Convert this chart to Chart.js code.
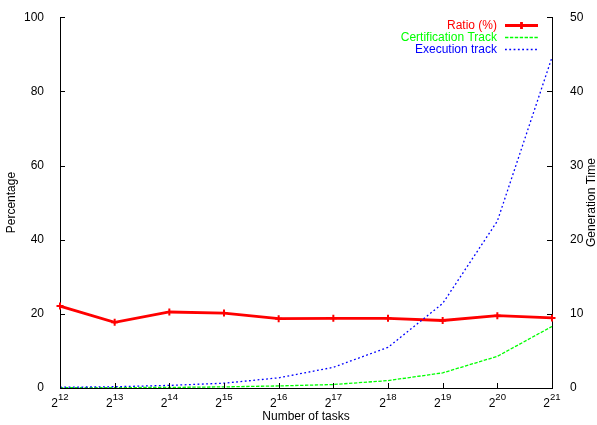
<!DOCTYPE html>
<html>
<head>
<meta charset="utf-8">
<script src="https://cdn.jsdelivr.net/npm/chart.js@4/dist/chart.umd.min.js"></script>
<style>
  html, body { margin: 0; padding: 0; background: #ffffff; }
  #wrap { width: 597px; height: 425px; }
</style>
</head>
<body>
<div id="wrap"><canvas id="c" width="597" height="425"></canvas></div>
<script>
// Number of tasks = 2^exponent
const exponents = [12, 13, 14, 15, 16, 17, 18, 19, 20, 21];
// Ratio (%) on the left axis
const ratioPct = [22.1, 17.7, 20.5, 20.2, 18.7, 18.8, 18.8, 18.2, 19.5, 18.9];
// Generation time on the right axis
const certTime = [0.03, 0.05, 0.08, 0.15, 0.28, 0.47, 1.0, 2.04, 4.27, 8.3];
const execTime = [0.1, 0.17, 0.35, 0.65, 1.37, 2.79, 5.48, 11.4, 22.5, 44.6];
// Axis ranges and steps
const leftRange = [0, 100, 20];
const rightRange = [0, 50, 10];

const FONT = '"Liberation Sans", Arial, Helvetica, sans-serif';
const RED = '#ff0000', GREEN = '#00ff00', BLUE = '#0000ff';

// Inward tick marks, superscript x labels, rotated titles and a gnuplot-style key
const decorations = {
  id: 'decorations',
  afterDraw(chart) {
    const ctx = chart.ctx;
    const area = chart.chartArea;
    const x = chart.scales.x, yl = chart.scales.y, yr = chart.scales.y2;
    const TL = 5;
    ctx.save();
    ctx.strokeStyle = '#000';
    ctx.lineWidth = 1;
    ctx.beginPath();
    yl.ticks.forEach(t => {
      const p = Math.round(yl.getPixelForValue(t.value)) + 0.5;
      ctx.moveTo(area.left, p); ctx.lineTo(area.left + TL, p);
    });
    yr.ticks.forEach(t => {
      const p = Math.round(yr.getPixelForValue(t.value)) + 0.5;
      ctx.moveTo(area.right, p); ctx.lineTo(area.right - TL, p);
    });
    exponents.forEach((e, i) => {
      const p = Math.round(x.getPixelForValue(i)) + 0.5;
      ctx.moveTo(p, area.bottom); ctx.lineTo(p, area.bottom - TL);
    });
    ctx.stroke();

    // x tick labels: 2 with superscript exponent
    ctx.fillStyle = '#000';
    ctx.textBaseline = 'alphabetic';
    ctx.textAlign = 'left';
    const baseFont = '12px ' + FONT, supFont = '9.6px ' + FONT;
    exponents.forEach((e, i) => {
      const p = x.getPixelForValue(i);
      ctx.font = baseFont;
      const wb = ctx.measureText('2').width;
      ctx.font = supFont;
      const ws = ctx.measureText(String(e)).width;
      const start = p - (wb + ws) / 2;
      ctx.font = baseFont;
      ctx.fillText('2', start, 407);
      ctx.font = supFont;
      ctx.fillText(String(e), start + wb, 399.5);
    });

    // axis titles
    ctx.font = '12px ' + FONT;
    ctx.textAlign = 'center';
    ctx.textBaseline = 'alphabetic';
    ctx.fillText('Number of tasks', (area.left + area.right) / 2, 419.5);
    const midY = (area.top + area.bottom) / 2;
    ctx.textBaseline = 'middle';
    ctx.save();
    ctx.translate(12, midY);
    ctx.rotate(-Math.PI / 2);
    ctx.fillText('Percentage', 0, 0);
    ctx.restore();
    ctx.save();
    ctx.translate(592, midY);
    ctx.rotate(-Math.PI / 2);
    ctx.fillText('Generation Time', 0, 0);
    ctx.restore();

    // key
    const textRight = 497, s0 = 505, s1 = 538;
    const rows = [25, 37, 49];
    ctx.textAlign = 'right';
    ctx.textBaseline = 'middle';
    chart.data.datasets.forEach((ds, i) => {
      const y = rows[i];
      ctx.fillStyle = ds.borderColor;
      ctx.fillText(ds.label, textRight, y + 0.5);
      ctx.save();
      ctx.strokeStyle = ds.borderColor;
      ctx.lineWidth = ds.borderWidth;
      ctx.setLineDash(ds.borderDash || []);
      ctx.beginPath();
      ctx.moveTo(s0, y + 0.5); ctx.lineTo(s1, y + 0.5);
      ctx.stroke();
      if (ds.pointRadius > 0) {
        ctx.setLineDash([]);
        Chart.helpers.drawPoint(ctx, {
          pointStyle: ds.pointStyle, radius: ds.pointRadius,
          borderWidth: ds.pointBorderWidth, rotation: 0
        }, (s0 + s1) / 2, y + 0.5);
      }
      ctx.restore();
    });
    ctx.restore();
  }
};

new Chart(document.getElementById('c'), {
  type: 'line',
  data: {
    labels: exponents.map(e => '2^' + e),
    datasets: [
      {
        label: 'Ratio (%)', data: ratioPct, yAxisID: 'y', order: 2,
        borderColor: RED, backgroundColor: RED, borderWidth: 2.8,
        pointStyle: 'cross', pointRadius: 3.5, pointBorderWidth: 2,
        pointBorderColor: RED, tension: 0, fill: false
      },
      {
        label: 'Certification Track', data: certTime, yAxisID: 'y2', order: 1,
        borderColor: GREEN, backgroundColor: GREEN, borderWidth: 1.3,
        borderDash: [3.4, 1.5], pointRadius: 0, tension: 0, fill: false
      },
      {
        label: 'Execution track', data: execTime, yAxisID: 'y2', order: 0,
        borderColor: BLUE, backgroundColor: BLUE, borderWidth: 1.3,
        borderDash: [1.8, 2.5], pointRadius: 0, tension: 0, fill: false
      }
    ]
  },
  options: {
    responsive: false,
    animation: false,
    devicePixelRatio: 1,
    layout: { padding: { top: 15, left: 0, right: 0, bottom: 0 } },
    plugins: { legend: { display: false }, tooltip: { enabled: false } },
    scales: {
      x: {
        type: 'category', offset: false,
        grid: { display: false },
        border: { display: true, color: '#000', width: 1 },
        ticks: { display: false },
        afterFit(s) { s.height = 37; }
      },
      y: {
        position: 'left', min: leftRange[0], max: leftRange[1],
        grid: { display: false },
        border: { display: true, color: '#000', width: 1 },
        ticks: { stepSize: leftRange[2], color: '#000', padding: 8,
                 font: { family: FONT, size: 12 } },
        afterFit(s) { s.width = 60; }
      },
      y2: {
        position: 'right', min: rightRange[0], max: rightRange[1],
        grid: { display: false },
        border: { display: true, color: '#000', width: 1 },
        ticks: { stepSize: rightRange[2], color: '#000', padding: 10,
                 font: { family: FONT, size: 12 } },
        afterFit(s) { s.width = 45; }
      }
    }
  },
  plugins: [decorations]
});
</script>
</body>
</html>
